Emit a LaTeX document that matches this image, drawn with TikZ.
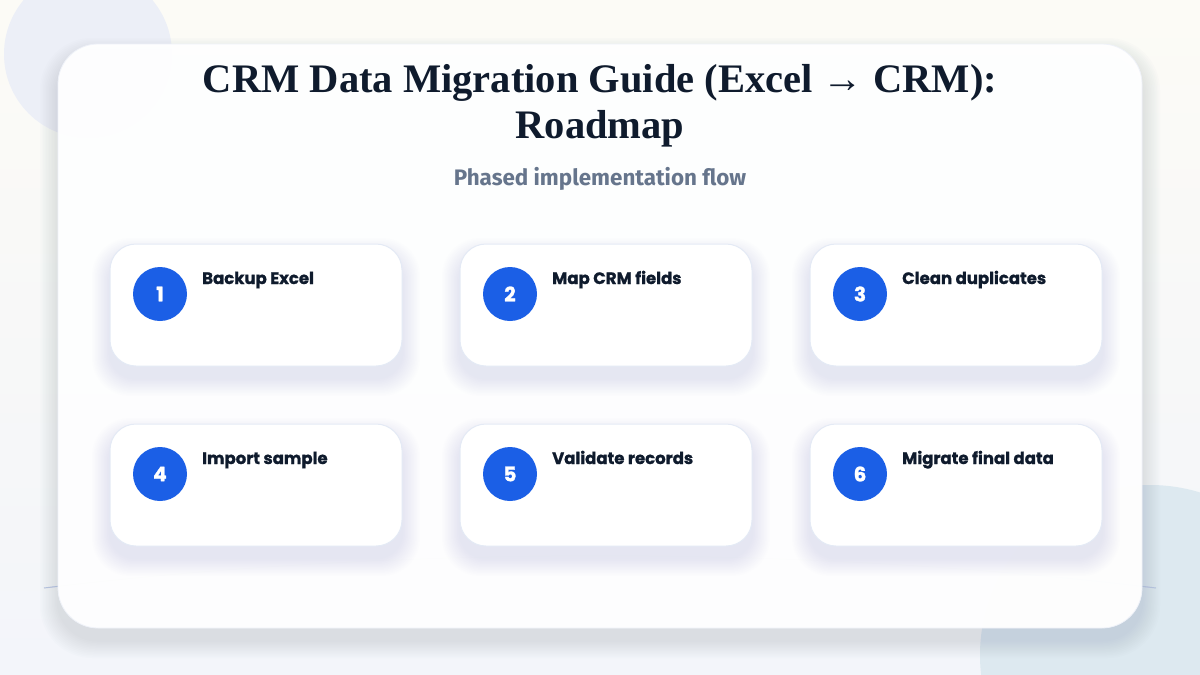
\documentclass[tikz,border=0pt]{standalone}
\usepackage{fontspec}
\setmainfont{Liberation Serif}
\newfontfamily\stepfont{Poppins}[BoldFeatures={FakeBold=1.2}]
\newfontfamily\subfont{Fira Sans}
\usetikzlibrary{positioning}
\definecolor{bgtop}{HTML}{FCFBF6}
\definecolor{bgbot}{HTML}{F3F5FA}
\definecolor{blobA}{HTML}{ECEFF7}
\definecolor{blobB}{HTML}{DDE9F0}
\definecolor{titlec}{HTML}{0F1B2D}
\definecolor{subc}{HTML}{66758C}
\definecolor{stepblue}{HTML}{1B5FE6}
\definecolor{cardline}{HTML}{E4EAF5}
\definecolor{shadowc}{HTML}{8A93B0}
\definecolor{arcc}{HTML}{B8C6E0}
\newcommand{\softshadow}[6]{%
  \foreach \k in {1,...,12}{%
    \fill[shadowc, opacity=#6, rounded corners=#5+\k*1pt]
      ({#1-\k*1.5},{#2-\k*1.5+12}) rectangle ({#3+\k*1.5},{#4+\k*1.5+12});
  }}
\tikzset{
  stepcard/.style={draw=cardline, line width=1pt, fill=white, rounded corners=26pt,
    minimum width=292pt, minimum height=122pt, inner sep=0pt},
  numdot/.style={circle, fill=stepblue, minimum size=54pt, inner sep=0pt,
    text=white, font=\stepfont\bfseries\fontsize{20}{20}\selectfont},
  steplabel/.style={anchor=base west, inner sep=0pt, text=titlec,
    font=\stepfont\bfseries\fontsize{16.5}{18}\selectfont},
}
\begin{document}
\begin{tikzpicture}[x=1pt,y=-1pt]
\useasboundingbox (0,0) rectangle (1200,675);
% background
\shade[top color=bgtop, bottom color=bgbot] (0,0) rectangle (1200,675);
\fill[blobA] (88,54) circle (84);
\fill[blobB] (1150,655) circle (170);
% faint arc behind the card
\draw[arcc, line width=1pt] (44,588) .. controls (400,545) and (800,545) .. (1156,588);
% main card
\softshadow{58}{44}{1142}{628}{40pt}{0.02}
\node[draw=cardline!60, line width=0.8pt, fill=white, fill opacity=0.97, rounded corners=40pt,
  minimum width=1084pt, minimum height=584pt, inner sep=0pt] (main) at (600,336) {};
% title
\node[anchor=base, inner sep=0pt, text=titlec, font=\bfseries\fontsize{40.5}{46}\selectfont] (t1) at (600,92)
  {CRM Data Migration Guide (Excel → CRM):};
\node[anchor=base, inner sep=0pt, text=titlec, font=\bfseries\fontsize{40.5}{46}\selectfont] (t2) at (600,138)
  {Roadmap};
\node[anchor=base, inner sep=0pt, text=subc, font=\subfont\bfseries\fontsize{22.4}{24}\selectfont] (sub) at (600,185)
  {Phased implementation flow};
% step cards
\foreach \n/\cx/\cy/\lab in {1/256/305/Backup Excel, 2/606/305/Map CRM fields, 3/956/305/Clean duplicates,
  4/256/485/Import sample, 5/606/485/Validate records, 6/956/485/Migrate final data}{
  \softshadow{\cx-146}{\cy-61}{\cx+146}{\cy+61}{26pt}{0.011}
  \node[stepcard] (card\n) at (\cx,\cy) {};
  \node[numdot] (num\n) at (\cx-96,\cy-11) {\n};
  \node[steplabel] (lab\n) at (\cx-54,\cy-21) {\lab};
}
\end{tikzpicture}
\end{document}
